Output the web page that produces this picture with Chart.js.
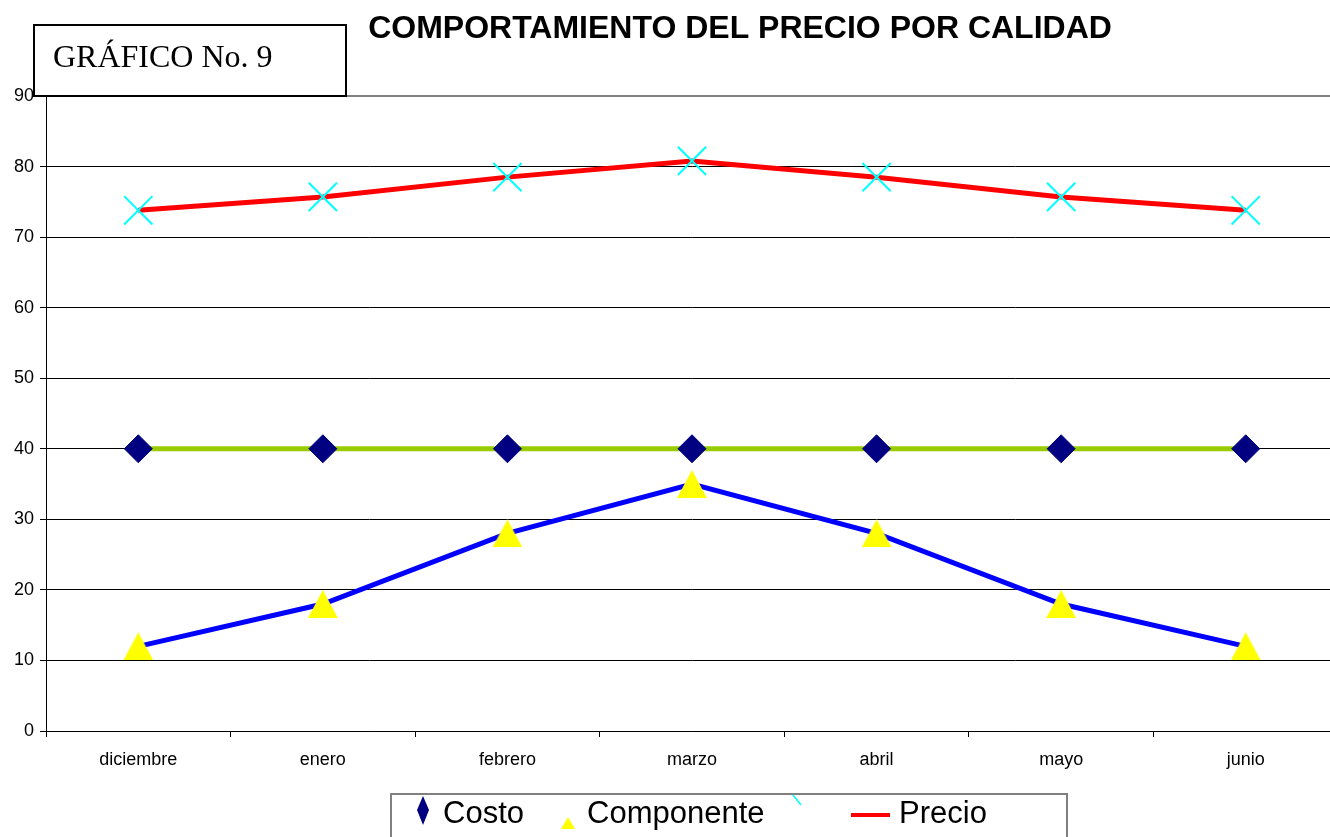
<!DOCTYPE html>
<html>
<head>
<meta charset="utf-8">
<title>Comportamiento del precio por calidad</title>
<script src="https://cdn.jsdelivr.net/npm/chart.js@4.4.1/dist/chart.umd.min.js"></script>
<style>
    html, body { margin: 0; padding: 0; background: #fff; overflow: hidden; }
    #wrap { position: relative; width: 1338px; height: 837px; }
    #grafico { display: block; }
</style>
</head>
<body>
<div id="wrap"><canvas id="grafico" width="1338" height="837"></canvas></div>
<script>
// Datos
const meses = ['diciembre', 'enero', 'febrero', 'marzo', 'abril', 'mayo', 'junio'];
const costo = [40, 40, 40, 40, 40, 40, 40];
const componente = [12, 18, 28, 35, 28, 18, 12];
const precio = [73.8, 75.7, 78.5, 80.8, 78.5, 75.7, 73.8];

const titulo = 'COMPORTAMIENTO DEL PRECIO POR CALIDAD';
const rotulo = 'GRÁFICO No. 9';
const SANS = '"Liberation Sans", Arial, sans-serif';
const SERIF = '"Liberation Serif", "Times New Roman", serif';

// Triangulo amarillo como imagen, centrado en su caja (igual que Excel)
function triangulo(w, h, color) {
    const c = document.createElement('canvas');
    c.width = w;
    c.height = h;
    const g = c.getContext('2d');
    g.fillStyle = color;
    g.beginPath();
    g.moveTo(w / 2, 0);
    g.lineTo(w, h);
    g.lineTo(0, h);
    g.closePath();
    g.fill();
    return c;
}
const marcaTriangulo = triangulo(30, 28, '#FFFF00');

// Titulo, recuadro "GRAFICO No. 9" y leyenda con borde
const decoraciones = {
    id: 'decoraciones',
    afterDraw(chart) {
        const ctx = chart.ctx;
        ctx.save();

        ctx.fillStyle = '#000';
        ctx.font = 'bold 32px ' + SANS;
        ctx.textAlign = 'center';
        ctx.textBaseline = 'alphabetic';
        ctx.fillText(titulo, 740, 38);

        ctx.fillStyle = '#fff';
        ctx.fillRect(34, 25, 312, 71);
        ctx.strokeStyle = '#000';
        ctx.lineWidth = 2;
        ctx.strokeRect(34, 25, 312, 71);
        ctx.fillStyle = '#000';
        ctx.textAlign = 'left';
        ctx.font = '32px ' + SERIF;
        ctx.fillText(rotulo, 53, 67);

        // leyenda
        ctx.strokeStyle = '#808080';
        ctx.lineWidth = 2;
        ctx.strokeRect(391, 794, 676, 60);
        ctx.font = '31px ' + SANS;
        const ds = chart.data.datasets;

        // Costo: rombo
        ctx.fillStyle = ds[0].pointBackgroundColor;
        ctx.beginPath();
        ctx.moveTo(423, 796);
        ctx.lineTo(429, 810);
        ctx.lineTo(423, 825);
        ctx.lineTo(417, 810);
        ctx.closePath();
        ctx.fill();
        ctx.fillStyle = '#000';
        ctx.fillText(ds[0].label, 443, 823);

        // Componente: triangulo
        ctx.drawImage(triangulo(14, 12, ds[1].pointBackgroundColor), 561, 817);
        ctx.fillStyle = '#000';
        ctx.fillText(ds[1].label, 587, 823);

        // serie sin nombre: trazo cian recortado
        ctx.strokeStyle = ds[2].pointBorderColor;
        ctx.lineWidth = 1.5;
        ctx.beginPath();
        ctx.moveTo(793, 795);
        ctx.lineTo(801, 805);
        ctx.stroke();

        // Precio: linea roja
        ctx.strokeStyle = ds[3].borderColor;
        ctx.lineWidth = 4;
        ctx.beginPath();
        ctx.moveTo(851, 815);
        ctx.lineTo(890, 815);
        ctx.stroke();
        ctx.fillText(ds[3].label, 899, 823);

        ctx.restore();
    }
};

new Chart(document.getElementById('grafico'), {
    type: 'line',
    data: {
        labels: meses,
        datasets: [
            {
                label: 'Costo',
                data: costo,
                borderColor: '#99CC00',
                borderWidth: 5,
                pointStyle: 'rectRot',
                pointRadius: 14,
                pointBackgroundColor: '#000080',
                pointBorderColor: '#000080',
                pointBorderWidth: 1,
                tension: 0
            },
            {
                label: 'Componente',
                data: componente,
                borderColor: '#0000FF',
                borderWidth: 5,
                pointStyle: marcaTriangulo,
                pointBackgroundColor: '#FFFF00',
                tension: 0
            },
            {
                label: '',
                data: precio,
                showLine: false,
                pointStyle: 'crossRot',
                pointRadius: 20,
                pointBorderColor: '#00FFFF',
                pointBorderWidth: 2
            },
            {
                label: 'Precio',
                data: precio,
                borderColor: '#FF0000',
                borderWidth: 5,
                pointRadius: 0,
                tension: 0
            }
        ]
    },
    options: {
        responsive: false,
        animation: false,
        devicePixelRatio: 1,
        layout: {
            autoPadding: false,
            padding: { top: 96, right: 0, bottom: 66, left: 0 }
        },
        plugins: {
            legend: { display: false },
            title: { display: false },
            tooltip: { enabled: false }
        },
        scales: {
            x: {
                offset: true,
                grid: {
                    offset: true,
                    drawOnChartArea: false,
                    drawTicks: true,
                    tickLength: 6,
                    color: '#000'
                },
                border: { color: '#000', width: 1 },
                ticks: {
                    color: '#000',
                    font: { family: SANS, size: 18 },
                    padding: 12,
                    maxRotation: 0
                },
                afterFit: (scale) => { scale.height = 40; }
            },
            y: {
                min: 0,
                max: 90,
                ticks: {
                    stepSize: 10,
                    color: '#000',
                    font: { family: SANS, size: 18 },
                    padding: 6
                },
                grid: {
                    color: (c) => (c.tick && c.tick.value === 90 ? '#808080' : '#000'),
                    lineWidth: (c) => (c.tick && c.tick.value === 90 ? 2 : 1),
                    tickLength: 6
                },
                border: { color: '#000', width: 1 },
                afterFit: (scale) => { scale.width = 46; }
            }
        }
    },
    plugins: [decoraciones]
});
</script>
</body>
</html>
